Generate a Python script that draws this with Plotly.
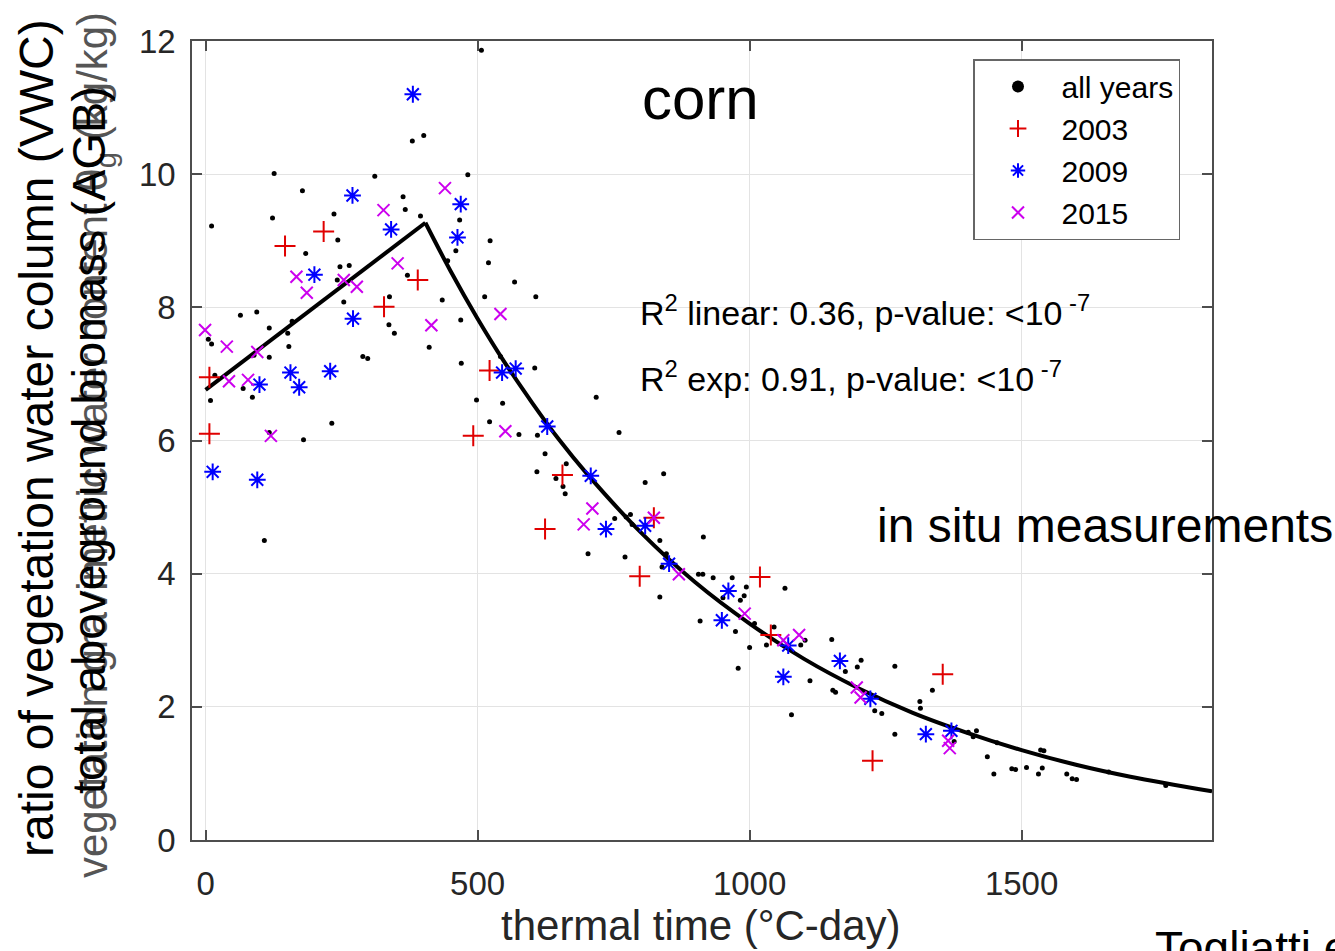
import plotly.graph_objects as go

# ---------------- data ----------------
all_x = [507, 380, 401, 126, 311, 482, 178, 363, 367, 395, 236, 123, 11, 243, 467, 184, 460, 523,
         445, 520, 247, 264, 242, 371, 435, 513, 568, 254, 159, 151, 64, 94, 117, 5, 11, 338, 337,
         347, 153, 117, 89, 289, 298, 411, 470, 469, 69, 86, 9, 17, 498, 546, 232, 522, 117, 180,
         576, 542, 108,
         607, 605, 718, 760, 610, 624, 609, 644, 663, 657, 661, 808, 842, 915, 752, 773, 781, 784,
         835, 703, 771, 847, 839, 835, 906, 914, 933, 968, 1065, 951, 994, 990, 983, 909, 974, 1009,
         1045, 1031, 1000, 1094, 1102, 979, 1111, 1077,
         1151, 1176, 1198, 1205, 1267, 1153, 1158, 1230, 1243, 1267, 1336, 1313, 1314, 1376, 1402,
         1417, 1411, 1437, 1449, 1482, 1489, 1509, 1531, 1538, 1535, 1541, 1583, 1593, 1601, 1455,
         1660, 1765]
all_y = [11.86, 10.50, 10.58, 10.01, 9.97, 9.99, 9.75, 9.66, 9.47, 9.37, 9.40, 9.34, 9.22, 9.01, 9.31,
         8.81, 8.85, 9.00, 8.70, 8.67, 8.61, 8.63, 8.41, 8.48, 8.11, 8.16, 8.38, 8.08, 7.79, 7.61, 7.88,
         7.93, 7.69, 7.52, 7.45, 8.16, 7.74, 7.61, 7.41, 7.25, 7.28, 7.26, 7.23, 7.40, 7.16, 7.81, 6.78,
         6.65, 6.60, 6.98, 6.61, 6.56, 6.26, 6.28, 6.12, 6.01, 6.09, 7.26, 4.50,
         8.16, 7.09, 6.65, 6.12, 6.08, 5.80, 5.53, 5.43, 5.65, 5.31, 5.20, 5.37, 5.50, 4.55, 4.83, 4.85,
         4.89, 4.74, 4.50, 4.30, 4.25, 4.30, 4.10, 3.65, 3.99, 3.99, 3.94, 3.94, 3.78, 3.64, 3.80, 3.67,
         3.60, 3.29, 3.13, 3.25, 3.20, 2.93, 2.89, 2.93, 3.00, 2.58, 2.39, 1.88,
         3.01, 2.53, 2.60, 2.70, 2.61, 2.25, 2.22, 1.94, 1.90, 1.59, 2.25, 2.08, 1.98, 1.48, 1.62,
         1.64, 1.55, 1.25, 0.99, 1.07, 1.06, 1.09, 0.99, 1.08, 1.35, 1.34, 0.99, 0.92, 0.91, 1.46,
         1.02, 0.82]

y2003_x = [7, 7, 146, 217, 390, 328, 492, 522, 656, 624, 824, 798, 1019, 1039, 1226, 1355]
y2003_y = [6.95, 6.10, 8.92, 9.14, 8.41, 8.01, 6.07, 7.05, 5.48, 4.67, 4.84, 3.96, 3.95, 3.08, 1.19, 2.49]

y2009_x = [381, 270, 469, 341, 463, 200, 271, 156, 229, 99, 172, 545, 570, 13, 95, 628, 708, 736,
           808, 852, 961, 949, 1071, 1062, 1166, 1222, 1324, 1371]
y2009_y = [11.20, 9.68, 9.55, 9.17, 9.05, 8.49, 7.83, 7.02, 7.04, 6.84, 6.80, 7.02, 7.08, 5.53, 5.41,
           6.21, 5.47, 4.67, 4.72, 4.15, 3.74, 3.30, 2.92, 2.45, 2.69, 2.12, 1.59, 1.64]

y2015_x = [-1, 39, 43, 78, 95, 120, 167, 186, 254, 278, 327, 353, 415, 440, 542, 551, 711, 695, 824,
           870, 991, 1062, 1091, 1197, 1204, 1365, 1368]
y2015_y = [7.66, 7.41, 6.89, 6.91, 7.33, 6.07, 8.46, 8.22, 8.41, 8.31, 9.46, 8.66, 7.73, 9.79, 7.90,
           6.14, 4.98, 4.74, 4.84, 3.99, 3.40, 3.00, 3.08, 2.29, 2.14, 1.49, 1.38]

# fitted curve
lin_x = [0, 404]
lin_y = [6.76, 9.27]
exp_x = [404, 450, 500, 550, 600, 650, 700, 800, 900, 1000, 1100, 1200, 1300, 1400, 1500, 1600, 1700, 1850]
exp_y = [9.27, 8.55, 7.83, 7.17, 6.57, 6.01, 5.51, 4.62, 3.87, 3.25, 2.72, 2.28, 1.91, 1.61, 1.35, 1.13, 0.95, 0.73]

x_ticks = [0, 500, 1000, 1500]
y_ticks = [0, 2, 4, 6, 8, 10, 12]

FONT = "Liberation Sans, Arial, Helvetica, sans-serif"
AX = "#4d4d4d"

fig = go.Figure()
fig.add_trace(go.Scatter(x=lin_x, y=lin_y, mode="lines", line=dict(color="black", width=4),
                         showlegend=False, hoverinfo="skip"))
fig.add_trace(go.Scatter(x=exp_x, y=exp_y, mode="lines", line=dict(color="black", width=4, shape="spline"),
                         showlegend=False, hoverinfo="skip"))
fig.add_trace(go.Scatter(x=all_x, y=all_y, mode="markers", name="all years",
                         marker=dict(color="black", size=5, symbol="circle")))
fig.add_trace(go.Scatter(x=y2003_x, y=y2003_y, mode="markers", name="2003",
                         marker=dict(symbol="cross-thin-open", size=15, color="#e00000",
                                     line=dict(color="#e00000", width=2))))
fig.add_trace(go.Scatter(x=y2009_x, y=y2009_y, mode="markers", name="2009",
                         marker=dict(symbol="asterisk-open", size=14, color="#0000ff",
                                     line=dict(color="#0000ff", width=2))))
fig.add_trace(go.Scatter(x=y2015_x, y=y2015_y, mode="markers", name="2015",
                         marker=dict(symbol="x-thin-open", size=12, color="#cc00ee",
                                     line=dict(color="#cc00ee", width=2))))

W, H = 1335, 951
L, R, T, B = 192, 1212, 41, 840


def px(xp):
    return (xp - L) / (R - L)


def py(yp):
    return (B - yp) / (B - T)


ann = []
ann.append(dict(text="corn", x=px(700), y=py(98), font=dict(size=60, color="black")))
ann.append(dict(text="in situ measurements", x=px(875), y=py(525), xanchor="left",
                font=dict(size=48, color="black")))
ann.append(dict(text="R<sup>2</sup> linear: 0.36, p-value: &lt;10<sup> -7</sup>", x=px(638), y=py(311),
                xanchor="left", font=dict(size=34, color="black")))
ann.append(dict(text="R<sup>2</sup> exp: 0.91, p-value: &lt;10<sup> -7</sup>", x=px(638), y=py(376),
                xanchor="left", font=dict(size=34, color="black")))
ann.append(dict(text="thermal time (°C-day)", x=px(701), y=py(925), font=dict(size=42, color="#262626")))
ann.append(dict(text="Togliatti et al.", x=px(1153), y=py(948), xanchor="left",
                font=dict(size=46, color="black")))
ann.append(dict(text="vegetation gravimetric water content θ<sub>g</sub> (kg/kg)", x=px(95), y=py(445),
                textangle=-90, font=dict(size=42, color="#555555")))
ann.append(dict(text="ratio of vegetation water column (VWC)", x=px(36), y=py(438), textangle=-90,
                font=dict(size=48, color="black")))
ann.append(dict(text="total aboveground biomass (AGB)", x=px(88), y=py(440), textangle=-90,
                font=dict(size=47, color="black")))
for a in ann:
    a.update(xref="paper", yref="paper", showarrow=False)
    a.setdefault("xanchor", "center")
    a.setdefault("yanchor", "middle")
    a["font"]["family"] = FONT

fig.update_layout(
    width=W, height=H,
    margin=dict(l=L, r=W - R, t=T, b=H - B),
    paper_bgcolor="white", plot_bgcolor="white",
    font=dict(family=FONT, color="#262626"),
    annotations=ann,
    legend=dict(x=px(973), y=py(59), xanchor="left", yanchor="top",
                bgcolor="white", bordercolor="#666666", borderwidth=1.5,
                font=dict(size=30, color="black", family=FONT),
                itemsizing="constant", itemwidth=77, tracegroupgap=0),
)
fig.update_xaxes(range=[-25, 1850], tickvals=x_ticks, ticktext=[str(v) for v in x_ticks],
                 showgrid=True, gridcolor="#e3e3e3", gridwidth=1, zeroline=False,
                 showline=True, linecolor=AX, linewidth=1.5, mirror="ticks",
                 ticks="inside", ticklen=10, tickcolor=AX, tickwidth=1.5,
                 tickfont=dict(size=33, color="#262626"), ticklabelstandoff=14)
fig.update_yaxes(range=[0, 12], tickvals=y_ticks, ticktext=[str(v) for v in y_ticks],
                 showgrid=True, gridcolor="#e3e3e3", gridwidth=1, zeroline=False,
                 showline=True, linecolor=AX, linewidth=1.5, mirror="ticks",
                 ticks="inside", ticklen=10, tickcolor=AX, tickwidth=1.5,
                 tickfont=dict(size=33, color="#262626"), ticklabelstandoff=8)

fig.write_html("out.html")
